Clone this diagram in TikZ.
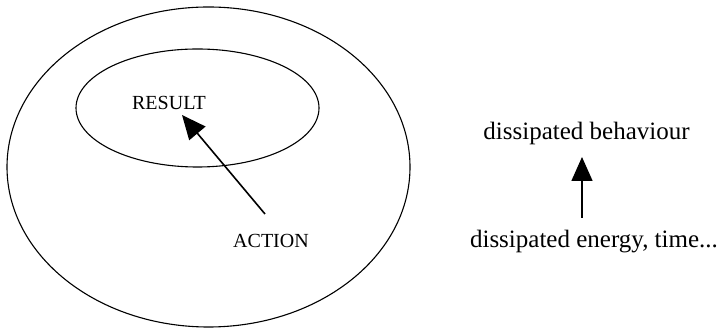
\documentclass[tikz,border=0pt]{standalone}
\usepackage{fontspec}
\setmainfont{Liberation Serif}
\usetikzlibrary{arrows.meta,shapes.geometric}
\begin{document}
\begin{tikzpicture}[x=1pt,y=-1pt,
  ring/.style={draw,line width=1.1pt,ellipse,inner sep=0pt},
  caplabel/.style={inner sep=0pt,anchor=base,font=\fontsize{20}{22}\selectfont},
  lowlabel/.style={inner sep=0pt,anchor=base,font=\fontsize{25}{28}\selectfont},
  bigarrow/.style={line width=1.6pt,-{Triangle[length=24pt,width=21pt]}}]
\useasboundingbox (0,0) rectangle (726,328);
\node[ring,minimum width=403pt,minimum height=320pt] (outer) at (208.5,167) {};
\node[ring,minimum width=243pt,minimum height=118pt] (inner) at (197.5,108) {};
\node[caplabel] (result) at (169,110) {RESULT};
\node[caplabel] (action) at (271,248) {ACTION};
\coordinate (astart) at (265,214);
\coordinate (atip) at (182,115);
\draw[bigarrow] (astart) -- (atip);
\node[lowlabel] (beh) at (586.5,140) {dissipated behaviour};
\node[lowlabel] (energy) at (594,248) {dissipated energy, time...};
\coordinate (rstart) at (582,218);
\coordinate (rtip) at (582,157);
\draw[bigarrow] (rstart) -- (rtip);
\end{tikzpicture}
\end{document}
